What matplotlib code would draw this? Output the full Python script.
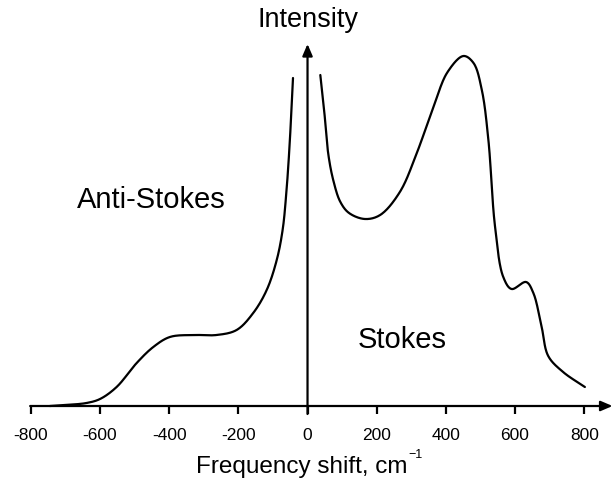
import numpy as np
import matplotlib
matplotlib.use("Agg")
import matplotlib.pyplot as plt

plt.rcParams['font.family'] = ['Liberation Sans', 'DejaVu Sans']

# Anti-Stokes branch (negative shift)
anti_x = [-745, -700, -639, -600, -552, -494, -446, -398, -330, -263, -205, -157, -118, -89, -72, -62, -52, -42]
anti_y = [0, 1, 3, 7, 19, 43, 59, 69, 71, 71, 76, 93, 116, 146, 176, 210, 260, 328]

# Stokes branch (positive shift)
stokes_x = [37, 48, 60, 75, 95, 120, 166, 210, 267, 316, 364, 405, 451, 480, 504, 523, 542, 566, 590, 632, 653, 677, 696, 739, 802]
stokes_y = [331, 296, 252, 225, 204, 193, 187, 191, 214, 253, 299, 334, 350, 343, 316, 266, 180, 129, 117, 124, 113, 79, 50, 34, 19]

xticks = [-800, -600, -400, -200, 0, 200, 400, 600, 800]

# pixel scale factors (data units per pixel) for a uniform spline parameterisation
SX, SY = 1 / 0.3458, 1.0

def smooth(xs, ys, alpha=0.5, per=24):
    P = np.column_stack([np.asarray(xs, float) / SX, np.asarray(ys, float) / SY])
    P = np.vstack([2 * P[0] - P[1], P, 2 * P[-1] - P[-2]])
    out = []
    for i in range(1, len(P) - 2):
        p0, p1, p2, p3 = P[i-1], P[i], P[i+1], P[i+2]
        t0 = 0.0
        t1 = t0 + np.linalg.norm(p1 - p0) ** alpha
        t2 = t1 + np.linalg.norm(p2 - p1) ** alpha
        t3 = t2 + np.linalg.norm(p3 - p2) ** alpha
        t = np.linspace(t1, t2, per, endpoint=False)[:, None]
        A1 = (t1 - t) / (t1 - t0) * p0 + (t - t0) / (t1 - t0) * p1
        A2 = (t2 - t) / (t2 - t1) * p1 + (t - t1) / (t2 - t1) * p2
        A3 = (t3 - t) / (t3 - t2) * p2 + (t - t2) / (t3 - t2) * p3
        B1 = (t2 - t) / (t2 - t0) * A1 + (t - t0) / (t2 - t0) * A2
        B2 = (t3 - t) / (t3 - t1) * A2 + (t - t1) / (t3 - t1) * A3
        C = (t2 - t) / (t2 - t1) * B1 + (t - t1) / (t2 - t1) * B2
        out.append(C)
    out.append(P[-2][None, :])
    out = np.vstack(out)
    return out[:, 0] * SX, out[:, 1] * SY

fig = plt.figure(figsize=(6.13, 4.92), dpi=100)
ax = fig.add_axes([0, 0, 1, 1])
ax.set_xlim(-889.2, 883.3)
ax.set_ylim(-86, 406)
ax.axis('off')

for xs, ys in [(anti_x, anti_y), (stokes_x, stokes_y)]:
    sx, sy = smooth(xs, ys)
    ax.plot(sx, sy, color='black', lw=1.6, solid_capstyle='round')

# axes with arrows
ax.annotate('', xy=(882, 0), xytext=(-802, 0),
            arrowprops=dict(arrowstyle='-|>,head_length=0.7,head_width=0.3', color='black', lw=1.6, shrinkA=0, shrinkB=0))
ax.annotate('', xy=(0, 362), xytext=(0, -8),
            arrowprops=dict(arrowstyle='-|>,head_length=0.7,head_width=0.3', color='black', lw=1.6, shrinkA=0, shrinkB=0))

for t in xticks:
    ax.plot([t, t], [0, -8], color='black', lw=1.6, solid_capstyle='butt')
    ax.text(t, -29, str(t), ha='center', va='center', fontsize=12.5)

ax.text(0, 386, 'Intensity', ha='center', va='center', fontsize=19.5)
ax.text(-451, 206, 'Anti-Stokes', ha='center', va='center', fontsize=21)
ax.text(275, 66, 'Stokes', ha='center', va='center', fontsize=21)
ax.text(-16, -61, 'Frequency shift, cm', ha='center', va='center', fontsize=17.5)
ax.text(293, -49, '\u22121', ha='left', va='center', fontsize=9)

fig.savefig('out.png', dpi=100)
